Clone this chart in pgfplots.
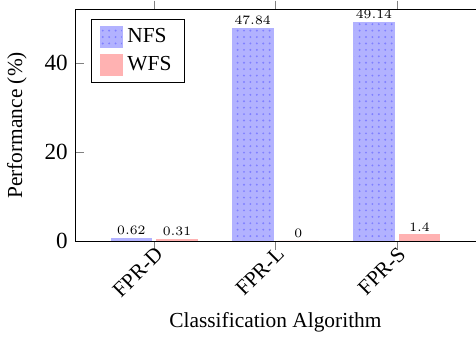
\documentclass[border=0pt]{standalone}
\usepackage{fontspec}
\setmainfont{Liberation Serif}
\usepackage{pgfplots}
\pgfplotsset{compat=1.18}
\usetikzlibrary{patterns}
\begin{document}
\begin{tikzpicture}
\begin{axis}[
  scale only axis,
  width=187pt, height=108pt,
  axis x line=box,
  axis y line*=left,
  ybar=2.3pt,
  bar width=19pt,
  xmin=-0.65, xmax=2.65,
  ymin=0, ymax=52,
  xtick=data,
  xticklabels={FPR-D,FPR-L,FPR-S},
  x tick label style={rotate=45, anchor=north east, inner sep=0.5pt},
  xticklabel shift=-3pt,
  ytick={0,20,40},
  y tick label style={font=\fontsize{10.8}{12}\selectfont},
  /pgf/number format/assume math mode=true,
  ylabel={Performance (\%)},
  ylabel style={yshift=1.5pt},
  xlabel={Classification Algorithm},
  xlabel style={yshift=-2pt},
  nodes near coords={$\pgfmathprintnumber{\pgfplotspointmeta}$},
  every node near coord/.append style={font=\fontsize{6.5}{7}\selectfont, inner sep=1.5pt},
  legend style={at={(0.04,0.96)}, anchor=north west, draw=black, inner xsep=4pt, inner ysep=2pt, row sep=1pt},
  legend cell align=left,
  legend image code/.code={\draw[#1] (0cm,-0.17cm) rectangle (0.36cm,0.17cm);},
]
\addplot[fill=blue!30, draw=blue!30, postaction={pattern=dots, pattern color=blue!50}] coordinates {(0,0.62) (1,47.84) (2,49.14)};
\addplot[fill=red!30, draw=red!30] coordinates {(0,0.31) (1,0) (2,1.4)};
\legend{NFS,WFS}
\end{axis}
\path ([yshift=4.6pt]current axis.north west) ;
\end{tikzpicture}
\end{document}
